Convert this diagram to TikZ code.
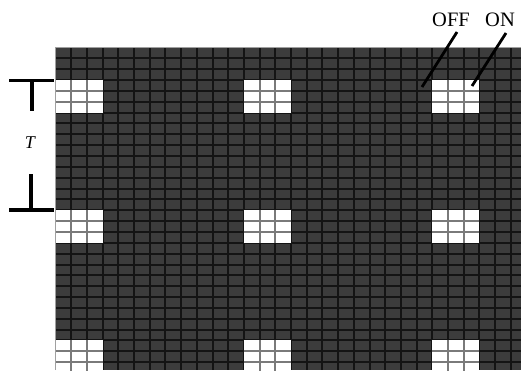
\documentclass[tikz,border=0pt]{standalone}
\usepackage{fontspec}
\setmainfont{Liberation Serif}
\definecolor{cellgray}{HTML}{3C3C3C}
\definecolor{linedark}{HTML}{141414}
\definecolor{linelight}{HTML}{7A7A7A}
\definecolor{edgegray}{HTML}{A0A0A0}
\tikzset{
  gridline/.style={draw=linedark, line width=2pt},
  blockline/.style={draw=linelight, line width=2pt},
  marker/.style={draw=black, line width=3.4pt},
  pointer/.style={draw=black, line width=2.8pt},
  lbl/.style={font=\fontsize{20.5}{22}\selectfont, inner sep=0pt}
}
\begin{document}
\begin{tikzpicture}[x=1pt,y=-1pt]
\useasboundingbox (0,0) rectangle (521,370);
\def\gx{55.5}\def\gy{47.5}\def\cw{15.7}\def\ch{10.85}
\begin{scope}
  \clip (\gx,\gy) rectangle (521,370);
  \fill[cellgray] (\gx,\gy) rectangle (521,370);
  \foreach \i in {1,...,30}{
    \draw[gridline] ({\gx+\i*\cw},\gy) -- ({\gx+\i*\cw},370);
    \draw[gridline] (\gx,{\gy+\i*\ch}) -- (521,{\gy+\i*\ch});
  }
  \foreach \bx in {0,12,24}{
    \foreach \by in {3,15,27}{
      \fill[white] ({\gx+\bx*\cw},{\gy+\by*\ch}) rectangle ++({3*\cw},{3*\ch});
      \draw[blockline] ({\gx+(\bx+1)*\cw},{\gy+\by*\ch}) -- ++(0,{3*\ch});
      \draw[blockline] ({\gx+(\bx+2)*\cw},{\gy+\by*\ch}) -- ++(0,{3*\ch});
      \draw[blockline] ({\gx+\bx*\cw},{\gy+(\by+1)*\ch}) -- ++({3*\cw},0);
      \draw[blockline] ({\gx+\bx*\cw},{\gy+(\by+2)*\ch}) -- ++({3*\cw},0);
    }
  }
\end{scope}
\draw[edgegray, line width=0.8pt] (\gx,370) -- (\gx,\gy) -- (521,\gy);
% T markers
\draw[marker] (9,80.5) -- (54,80.5);
\draw[marker] (32,80.5) -- (32,111);
\draw[marker] (31,174) -- (31,210);
\draw[marker] (9,210) -- (54,210);
\node[lbl, font=\fontsize{18}{20}\selectfont\itshape] (T) at (30,143) {T};
% labels
\node[lbl, anchor=base] (off) at (451,26) {OFF};
\node[lbl, anchor=base] (on) at (500,26) {ON};
\coordinate (offend) at (422,87);
\coordinate (onend) at (472,86);
\draw[pointer] (457,32) -- (offend);
\draw[pointer] (506,33) -- (onend);
\end{tikzpicture}
\end{document}
